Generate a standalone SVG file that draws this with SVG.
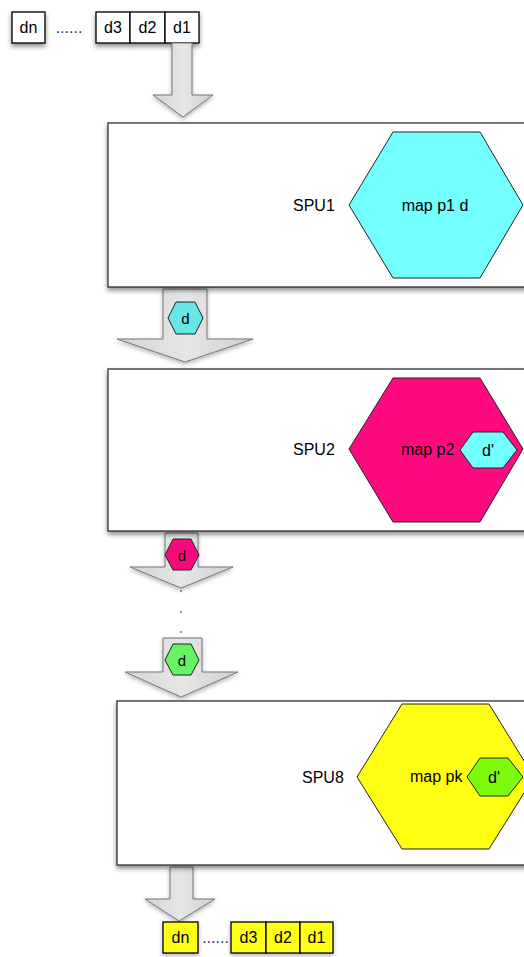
<svg xmlns="http://www.w3.org/2000/svg" width="524" height="957" viewBox="0 0 524 957">
<defs>
<filter id="sh" x="-10%" y="-10%" width="130%" height="140%">
<feDropShadow dx="0" dy="3" stdDeviation="2.5" flood-color="#000" flood-opacity="0.45"/>
</filter>
<filter id="sh2" x="-20%" y="-20%" width="140%" height="150%">
<feDropShadow dx="0" dy="2" stdDeviation="2" flood-color="#000" flood-opacity="0.3"/>
</filter>
<linearGradient id="ag" x1="0" y1="0" x2="1" y2="0">
<stop offset="0" stop-color="#d4d4d4"/>
<stop offset="0.5" stop-color="#e6e6e6"/>
<stop offset="1" stop-color="#d0d0d0"/>
</linearGradient>
</defs>
<style>
text{font-family:"Liberation Sans",Arial,sans-serif;fill:#000}
.t{font-size:16px}
.s{font-size:16px}
.k{font-size:15px}
.box{fill:#fff;stroke:#000;stroke-width:1.3}
.ybox{fill:#ffff14;stroke:#000;stroke-width:1.3}
.spu{fill:#fff;stroke:#222;stroke-width:1.2}
.arr{fill:url(#ag);stroke:#777;stroke-width:1}
.hx{stroke:#222;stroke-width:1}
</style>

<g id="input-queue">
<g filter="url(#sh)">
<rect class="box" x="12" y="12" width="33" height="31"/>
<rect class="box" x="96" y="12" width="34" height="31"/>
<rect class="box" x="130" y="12" width="35" height="31"/>
<rect class="box" x="165" y="12" width="34" height="31"/>
</g>
<text class="t" x="28.5" y="33" text-anchor="middle">dn</text>
<text class="t" x="69" y="33" text-anchor="middle" style="fill:#1a3a6a">......</text>
<text class="t" x="113" y="33" text-anchor="middle">d3</text>
<text class="t" x="147.5" y="33" text-anchor="middle">d2</text>
<text class="t" x="182" y="33" text-anchor="middle">d1</text>
</g>

<g id="connectors">
<polygon class="arr" filter="url(#sh2)" points="172,43 192,43 192,95 213,95 183,117 153,95 172,95"/>
<polygon class="arr" filter="url(#sh2)" points="163,289 207,289 207,339 253,339 185,362 117,339 163,339"/>
<polygon class="arr" filter="url(#sh2)" points="165,533 198,533 198,567 233,567 181,588 130,567 165,567"/>
<circle cx="181" cy="591" r="0.9" fill="#4a6fa5"/>
<circle cx="181" cy="612" r="0.9" fill="#4a6fa5"/>
<circle cx="181" cy="632" r="0.9" fill="#4a6fa5"/>
<polygon class="arr" filter="url(#sh2)" points="163,638 202,638 202,672 238,672 181,697 125,672 163,672"/>
<polygon class="arr" filter="url(#sh2)" points="170,867 193,867 193,899 215,899 179,921 145,899 170,899"/>
<g id="token-1">
<polygon class="hx" fill="#66e6e6" points="168,318 176,302 195,302 203,318 195,334 176,334"/>
<text class="k" x="185.5" y="323.5" text-anchor="middle">d</text>
</g>
<g id="token-2">
<polygon class="hx" fill="#f80a7c" points="165,555 173,539 191,539 199,555 191,570 173,570"/>
<text class="k" x="182" y="560.5" text-anchor="middle">d</text>
</g>
<g id="token-8">
<polygon class="hx" fill="#66f466" points="165,660 173,644 191,644 199,660 191,675 173,675"/>
<text class="k" x="182" y="665.5" text-anchor="middle">d</text>
</g>
</g>

<g id="spu1">
<rect class="spu" filter="url(#sh)" x="108" y="123" width="420" height="164"/>
<text class="s" x="293" y="211">SPU1</text>
<polygon class="hx" fill="#73ffff" points="349,205 393,132 480,132 523,205 480,278 393,278"/>
<text class="s" x="435" y="211" text-anchor="middle">map p1 d</text>
</g>

<g id="spu2">
<rect class="spu" filter="url(#sh)" x="108" y="369" width="420" height="162"/>
<text class="s" x="293" y="455">SPU2</text>
<polygon class="hx" fill="#fc0a7e" points="349,449 393,378 480,378 523,449 480,522 393,522"/>
<text class="s" x="401" y="455">map p2</text>
<polygon class="hx" fill="#73ffff" points="460,450 473,432 503,432 517,450 503,468 473,468"/>
<text class="s" x="488" y="455.5" text-anchor="middle">d'</text>
</g>

<g id="spu8">
<rect class="spu" filter="url(#sh)" x="117" y="701" width="420" height="164"/>
<text class="s" x="302" y="783">SPU8</text>
<polygon class="hx" fill="#ffff14" points="357,777 402,704 489,704 534,777 489,849 402,849"/>
<text class="s" x="410" y="782">map pk</text>
<polygon class="hx" fill="#7cfc0a" points="467,777 480,758 508,758 523,777 508,796 480,796"/>
<text class="s" x="494" y="782.5" text-anchor="middle">d'</text>
</g>

<g id="output-queue">
<g filter="url(#sh2)">
<rect class="ybox" x="163" y="922" width="35" height="31"/>
<rect class="ybox" x="231" y="922" width="35" height="31"/>
<rect class="ybox" x="266" y="922" width="34" height="31"/>
<rect class="ybox" x="300" y="922" width="33" height="31"/>
</g>
<text class="t" x="180.5" y="943" text-anchor="middle">dn</text>
<text class="t" x="215.5" y="943" text-anchor="middle" style="fill:#1a3a6a">......</text>
<text class="t" x="248.5" y="943" text-anchor="middle">d3</text>
<text class="t" x="283" y="943" text-anchor="middle">d2</text>
<text class="t" x="316.5" y="943" text-anchor="middle">d1</text>
</g>
</svg>
